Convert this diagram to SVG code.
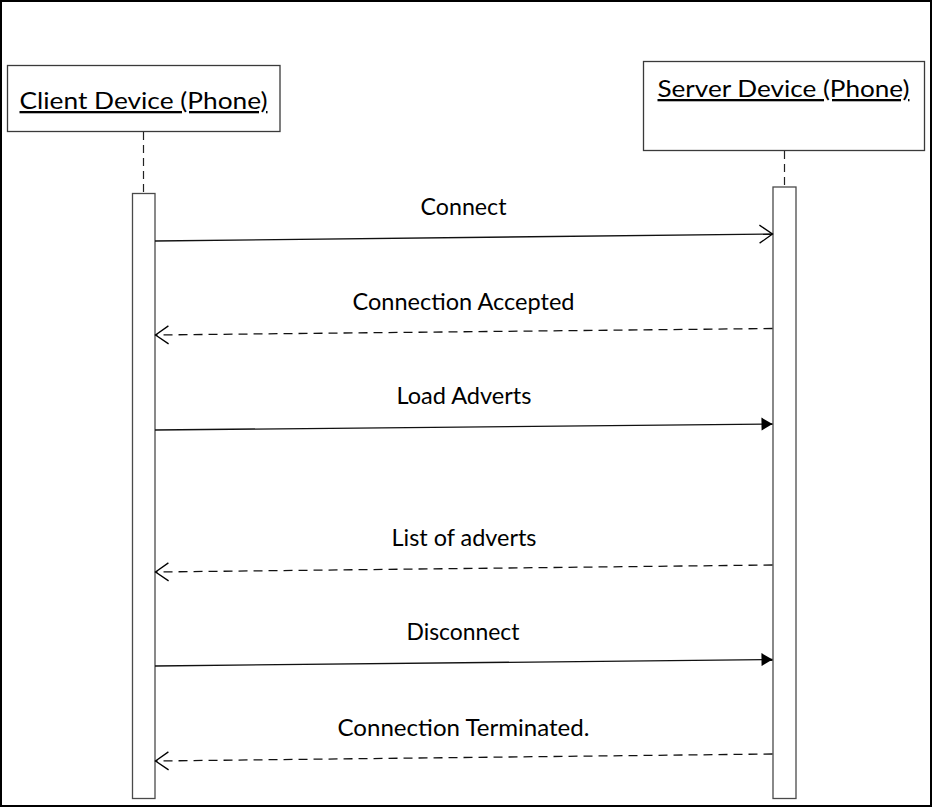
<svg xmlns="http://www.w3.org/2000/svg" width="932" height="807" viewBox="0 0 932 807">
  <style>
    .frame { fill: #ffffff; stroke: #000000; stroke-width: 2; }
    .box { fill: #ffffff; stroke: #3a3a3a; stroke-width: 1.3; }
    .bar { fill: #ffffff; stroke: #4a4a4a; stroke-width: 1.3; }
    .life { stroke: #222222; stroke-width: 1.2; stroke-dasharray: 8 5; fill: none; }
    .call { stroke: #111111; stroke-width: 1.3; fill: none; }
    .reply { stroke: #111111; stroke-width: 1.3; fill: none; stroke-dasharray: 9 6; }
    text { font-family: Lato, "Open Sans", "Liberation Sans", sans-serif; font-size: 23px; fill: #000000; text-anchor: middle; }
    .title { text-decoration: underline; }
  </style>
  <defs>
    <marker id="open" viewBox="-16 -12 18 24" refX="0" refY="0" markerWidth="18" markerHeight="24" markerUnits="userSpaceOnUse" orient="auto">
      <path d="M -13 -9 L 0 0 L -13 9" fill="none" stroke="#000000" stroke-width="1.3"/>
    </marker>
    <marker id="solid" viewBox="-13 -8 15 16" refX="0" refY="0" markerWidth="15" markerHeight="16" markerUnits="userSpaceOnUse" orient="auto">
      <path d="M -11 -6.5 L 0 0 L -11 6.5 Z" fill="#000000"/>
    </marker>
  </defs>

  <!-- outer frame -->
  <rect class="frame" x="1" y="1" width="930" height="805"/>

  <!-- client participant -->
  <g id="client">
    <rect class="box" x="7.5" y="65.5" width="272.5" height="66"/>
    <text class="title" x="143.5" y="109" textLength="248" lengthAdjust="spacingAndGlyphs">Client Device (Phone)</text>
    <line class="life" x1="143.5" y1="132" x2="143.5" y2="193"/>
    <rect class="bar" x="132.5" y="193.5" width="22.5" height="605"/>
  </g>

  <!-- server participant -->
  <g id="server">
    <rect class="box" x="643.5" y="61.5" width="281" height="89"/>
    <text class="title" x="783.5" y="97" textLength="252" lengthAdjust="spacingAndGlyphs">Server Device (Phone)</text>
    <line class="life" x1="784.5" y1="151" x2="784.5" y2="187"/>
    <rect class="bar" x="773" y="187" width="23" height="611.5"/>
  </g>

  <!-- messages -->
  <g id="connectors">
    <line class="call" x1="155" y1="241" x2="772.5" y2="234" marker-end="url(#open)"/>
    <line class="reply" x1="772.5" y1="328.5" x2="155.5" y2="335" marker-end="url(#open)"/>
    <line class="call" x1="155" y1="430" x2="772.5" y2="424" marker-end="url(#solid)"/>
    <line class="reply" x1="772.5" y1="565" x2="155.5" y2="572" marker-end="url(#open)"/>
    <line class="call" x1="155" y1="666" x2="772.5" y2="659.5" marker-end="url(#solid)"/>
    <line class="reply" x1="772.5" y1="754" x2="155.5" y2="761" marker-end="url(#open)"/>
  </g>

  <!-- message labels -->
  <g id="labels">
    <text x="463.5" y="215" textLength="86" lengthAdjust="spacingAndGlyphs">Connect</text>
    <text x="463.5" y="310" textLength="222" lengthAdjust="spacingAndGlyphs">Connection Accepted</text>
    <text x="464" y="404" textLength="135" lengthAdjust="spacingAndGlyphs">Load Adverts</text>
    <text x="464" y="546" textLength="145" lengthAdjust="spacingAndGlyphs">List of adverts</text>
    <text x="463" y="640" textLength="113" lengthAdjust="spacingAndGlyphs">Disconnect</text>
    <text x="463.5" y="736" textLength="252" lengthAdjust="spacingAndGlyphs">Connection Terminated.</text>
  </g>
</svg>
